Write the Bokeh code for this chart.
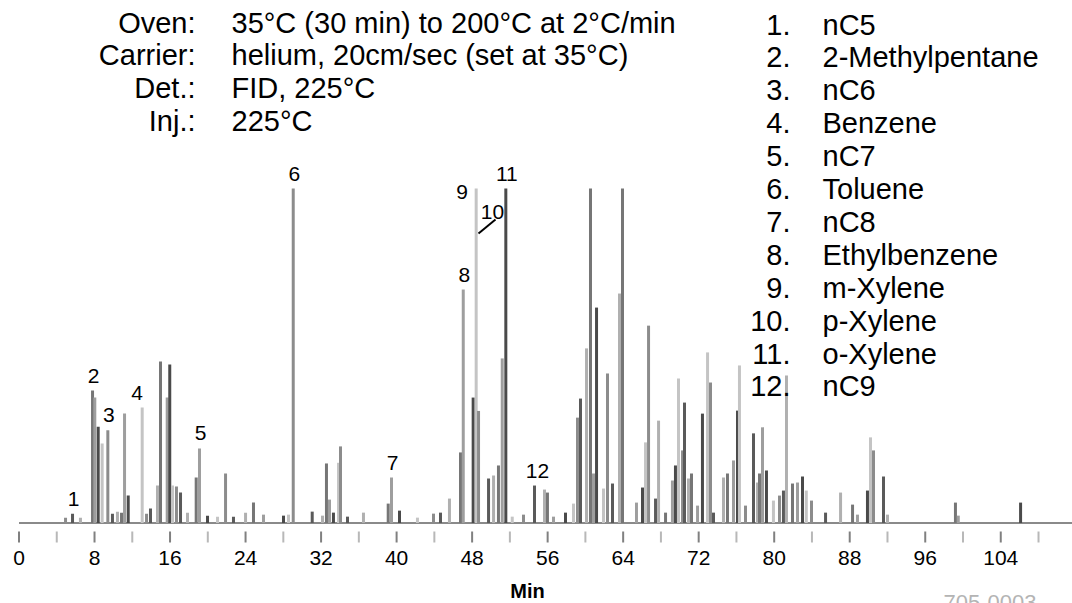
from bokeh.plotting import figure
from bokeh.models import Range1d
from bokeh.core.properties import value
from bokeh.embed import file_html
from bokeh.resources import INLINE

# peaks: retention time (min) and height (% of the tallest peak)
peak_time = [4.93, 5.67, 6.51, 7.79, 8.03, 8.39, 8.81, 9.41, 9.90, 10.43, 10.86, 11.18, 11.57,
             13.05, 13.51, 13.93, 14.67, 14.99, 15.70, 15.97, 16.26, 16.68, 17.11, 17.85, 18.77,
             19.12, 19.97, 21.03, 21.88, 22.72, 24.00, 24.84, 25.90, 28.02, 28.55, 29.05, 31.06,
             32.15, 32.57, 32.89, 33.31, 33.85, 34.06, 34.80, 36.49, 39.11, 39.46, 40.31, 42.21,
             43.91, 44.65, 45.60, 46.77, 47.06, 48.11, 48.43, 48.68, 49.74, 50.27, 50.79, 51.19,
             51.57, 52.25, 53.44, 54.61, 55.67, 55.98, 56.62, 57.89, 58.74, 59.16, 59.48, 60.12,
             60.54, 60.86, 61.18, 61.92, 62.34, 62.87, 63.61, 63.93, 65.41, 66.05, 66.37, 66.69,
             67.43, 67.75, 68.49, 69.22, 69.54, 69.86, 70.29, 70.50, 70.92, 71.24, 71.88, 72.40,
             72.94, 73.25, 73.57, 74.63, 75.05, 75.69, 76.11, 76.32, 76.96, 77.81, 78.23, 78.44,
             78.76, 79.18, 79.92, 80.56, 80.98, 81.30, 81.94, 82.47, 83.00, 83.40, 83.95, 85.44,
             87.03, 88.30, 88.82, 89.88, 90.20, 90.52, 91.58, 92.00, 99.20, 99.50, 106.10]
peak_height = [1.6, 2.8, 1.6, 39.6, 37.5, 28.8, 23.8, 27.7, 2.8, 3.4, 3.1, 32.7, 8.2,
               34.5, 2.8, 4.3, 11.2, 48.3, 37.5, 47.4, 11.2, 10.9, 9.1, 3.1, 13.6,
               22.3, 2.2, 1.9, 14.8, 1.9, 3.1, 6.1, 2.5, 2.2, 2.5, 100.0, 3.4,
               2.2, 17.8, 7.0, 3.1, 18.0, 22.9, 1.9, 3.1, 5.8, 13.6, 3.7, 1.6,
               2.8, 3.1, 7.3, 21.1, 69.8, 37.5, 100.0, 33.5, 13.3, 14.2, 17.2, 49.2,
               100.0, 1.9, 2.5, 11.2, 10.0, 9.1, 1.9, 3.1, 5.8, 31.5, 37.2, 52.2,
               100.0, 14.8, 64.4, 10.3, 44.7, 11.8, 68.6, 100.0, 6.1, 10.6, 24.1, 59.0,
               7.3, 30.6, 3.1, 12.7, 17.2, 43.2, 21.7, 36.0, 13.3, 14.8, 5.2, 32.7,
               51.0, 42.0, 3.1, 13.6, 14.8, 18.7, 33.6, 47.1, 5.2, 26.8, 12.1, 14.8,
               28.6, 15.7, 6.7, 8.2, 9.7, 44.1, 11.8, 12.1, 13.9, 9.7, 6.7, 3.1,
               9.1, 5.5, 2.5, 9.7, 25.6, 21.7, 13.9, 2.5, 6.1, 2.2, 6.1]

compound_no = ["1", "2", "3", "4", "5", "6", "7", "8", "9", "10", "11", "12"]
compound_name = ["nC5", "2-Methylpentane", "nC6", "Benzene", "nC7", "Toluene", "nC8",
                 "Ethylbenzene", "m-Xylene", "p-Xylene", "o-Xylene", "nC9"]
compound_time = [5.67, 7.79, 9.41, 13.05, 19.12, 29.05, 39.46, 47.06, 48.43, 48.68, 51.57, 54.61]

cond_label = ["Oven:", "Carrier:", "Det.:", "Inj.:"]
cond_text = ["35°C (30 min) to 200°C at 2°C/min", "helium, 20cm/sec (set at 35°C)",
             "FID, 225°C", "225°C"]

tick_major = [0, 8, 16, 24, 32, 40, 48, 56, 64, 72, 80, 88, 96, 104]
tick_minor = [4, 12, 20, 28, 36, 44, 52, 60, 68, 76, 84, 92, 100, 108]
tick_labels = ["0", "8", "16", "24", "32", "40", "48", "56", "64", "72", "80", "88", "96", "104"]

W, H = 1072, 603

# page pixel -> data helpers (t=0 at x=18.5, 9.44 px per min; baseline at y=522.5)
def tx(px):
    return (px - 18.5) / 9.44

def ty(py):
    return (522.5 - py) / 3.345

p = figure(width=W, height=H, x_range=Range1d(tx(0), tx(W)), y_range=Range1d(ty(H), ty(0)),
           output_backend="svg", toolbar_location=None, min_border=0,
           x_axis_location=None, y_axis_location=None)
p.xgrid.visible = False
p.ygrid.visible = False
p.outline_line_color = None
p.background_fill_color = "white"

shades = ["#8c8c8c", "#5a5a5a", "#b0b0b0", "#767676", "#9e9e9e", "#4a4a4a", "#c4c4c4"]
colors = [shades[i % len(shades)] for i in range(len(peak_time))]

p.line(x=[0, p.x_range.end], y=[0, 0], line_color="#8a8a8a", line_width=2)
p.segment(x0=peak_time, y0=[0] * len(peak_time), x1=peak_time, y1=peak_height,
          line_color=colors, line_width=3)

# axis ticks below the baseline
p.segment(x0=tick_major, y0=[ty(531)] * len(tick_major), x1=tick_major, y1=[ty(542)] * len(tick_major),
          line_color="#808080", line_width=2)
p.segment(x0=tick_minor, y0=[ty(531)] * len(tick_minor), x1=tick_minor, y1=[ty(542)] * len(tick_minor),
          line_color="#b8b8b8", line_width=2)
sans = value("Liberation Sans")
p.text(x=tick_major, y=[ty(557)] * len(tick_major), text=tick_labels, text_align="center",
       text_baseline="middle", text_font=sans, text_font_size="21px", text_color="black")
p.text(x=[tx(527)], y=[ty(590)], text=["Min"], text_align="center", text_baseline="middle",
       text_font=sans, text_font_size="20px", text_font_style="bold", text_color="black")
p.text(x=[tx(943)], y=[ty(594)], text=["705-0003"], text_align="left", text_baseline="top",
       text_font=sans, text_font_size="22px", text_color="#b4b4b4")

# peak numbers
lab_x, lab_y = [], []
dx = {"4": -5, "9": -14, "10": 14, "12": 3}
for no, rt in zip(compound_no, compound_time):
    h = peak_height[peak_time.index(rt)]
    lab_x.append(rt + dx.get(no, 1) / 9.44)
    lab_y.append(h + 15 / 3.345)
lab_y[8] = ty(191)
lab_y[9] = ty(211)
p.text(x=lab_x, y=lab_y, text=compound_no, text_align="center", text_baseline="alphabetic",
       text_font=sans, text_font_size="21px", text_color="black")
p.line(x=[tx(478), tx(495)], y=[ty(233), ty(219)], line_color="black", line_width=2)

# run conditions
rows = [ty(22 + 32.8 * i) for i in range(len(cond_label))]
p.text(x=[tx(195)] * len(rows), y=rows, text=cond_label, text_align="right", text_baseline="middle",
       text_font=sans, text_font_size="29px", text_color="black")
p.text(x=[tx(231)] * len(rows), y=rows, text=cond_text, text_align="left", text_baseline="middle",
       text_font=sans, text_font_size="29px", text_color="black")

# compound list
rows = [ty(24 + 32.9 * i) for i in range(len(compound_no))]
p.text(x=[tx(790)] * len(rows), y=rows, text=[n + "." for n in compound_no], text_align="right",
       text_baseline="middle", text_font=sans, text_font_size="29px", text_color="black")
p.text(x=[tx(822)] * len(rows), y=rows, text=compound_name, text_align="left",
       text_baseline="middle", text_font=sans, text_font_size="29px", text_color="black")

open("out.html", "w").write(file_html(p, INLINE))
